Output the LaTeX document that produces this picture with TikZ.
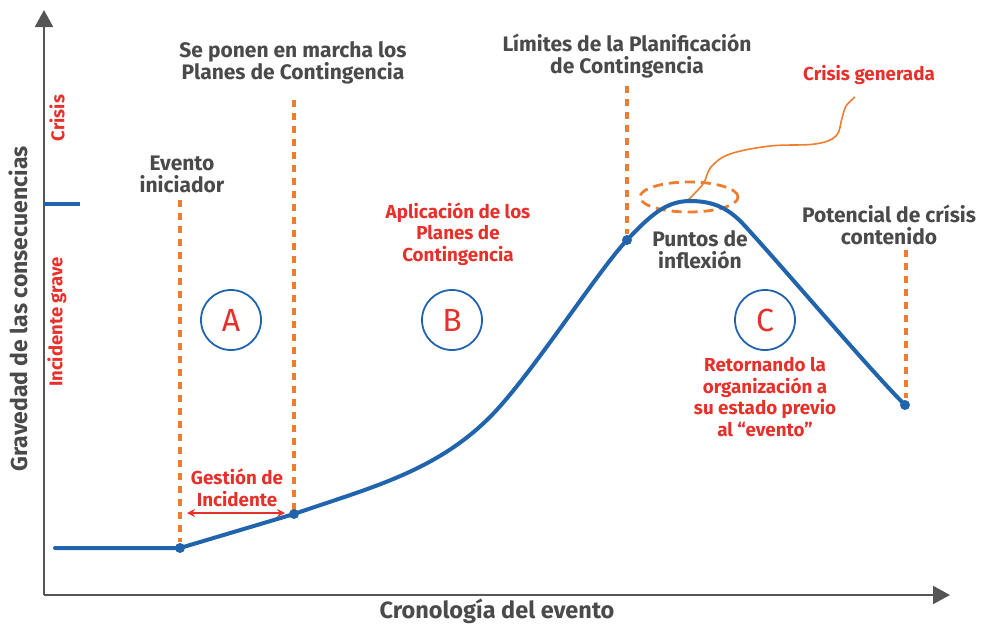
\documentclass[tikz,border=0pt]{standalone}
\usepackage{fontspec}
\setmainfont{Fira Sans}[BoldFont={Fira Sans Bold}]
\usetikzlibrary{arrows.meta}
\definecolor{axgray}{HTML}{555555}
\definecolor{txtgray}{HTML}{4A4A4A}
\definecolor{cred}{HTML}{E8302A}
\definecolor{cblue}{HTML}{2164AE}
\definecolor{corange}{HTML}{EE7D2F}
\tikzset{
  axis/.style={axgray, line width=2pt, -{Triangle[width=18pt,length=17pt]}},
  vdash/.style={corange, line width=3.5pt, dash pattern=on 7pt off 6pt},
  graytxt/.style={txtgray, font=\bfseries\fontsize{21}{22}\selectfont, align=center, inner sep=0pt},
  redtxt/.style={cred, font=\bfseries\fontsize{18.8}{21.5}\selectfont, align=center, inner sep=0pt},
  zone/.style={circle, draw=cblue, line width=1.8pt, minimum size=60pt, inner sep=0pt, text=cred, font=\fontsize{32}{32}\selectfont},
  dot/.style={circle, fill=cblue, minimum size=10pt, inner sep=0pt},
}
\begin{document}
\begin{tikzpicture}[x=1pt,y=-1pt]
\useasboundingbox (0,0) rectangle (998,624);
% axes
\coordinate (O) at (44,595);
\coordinate (ytop) at (44,10);
\coordinate (xend) at (950,595);
\draw[axis] (O) -- (ytop);
\draw[axis] (O) -- (xend);
\node[txtgray, font=\bfseries\fontsize{23}{24}\selectfont, rotate=90, inner sep=0pt] (ylab) at (18,309) {Gravedad de las consecuencias};
\node[txtgray, font=\bfseries\fontsize{23.5}{24}\selectfont, inner sep=0pt] (xlab) at (497,611) {Cronología del evento};
% crisis tick
\coordinate (t1) at (44,204);
\coordinate (t2) at (80,204);
\draw[cblue, line width=4pt] (t1) -- (t2);
\node[cred, font=\bfseries\fontsize{18.5}{20}\selectfont, rotate=90, inner sep=0pt] (crisis) at (57,118) {Crisis};
\node[cred, font=\bfseries\fontsize{18.5}{20}\selectfont, rotate=90, inner sep=0pt] (incg) at (57,322) {Incidente grave};
% vertical dashed lines
\coordinate (v1a) at (180,200); \coordinate (v1b) at (180,542);
\coordinate (v2a) at (294,100); \coordinate (v2b) at (294,510);
\coordinate (v3a) at (627,86); \coordinate (v3b) at (627,234);
\coordinate (v4a) at (906,250); \coordinate (v4b) at (906,398);
\draw[vdash] (v1a) -- (v1b);
\draw[vdash] (v2a) -- (v2b);
\draw[vdash] (v3a) -- (v3b);
\draw[vdash] (v4a) -- (v4b);
% dashed ellipse
\draw[corange, line width=2.8pt, dash pattern=on 10pt off 6pt] (689,197) ellipse [x radius=49pt, y radius=15pt];
% squiggle
\draw[corange, line width=1.6pt] plot[smooth, tension=0.6] coordinates {(686,202) (703,184) (711,167) (730,154) (770,146) (815,144) (836,136) (842,118) (846,106) (855,97)};
% main curve
\coordinate (c0) at (55,548);
\coordinate (P0) at (180,548);
\coordinate (P1) at (294,514);
\coordinate (P2) at (490,417);
\coordinate (P3) at (627,240);
\coordinate (P4) at (690,201);
\coordinate (Q) at (745,226);
\coordinate (P5) at (905,405);
\draw[cblue, line width=4pt, line cap=round] (c0) -- (P0) -- (P1)
  .. controls (369,488) and (435,472) .. (P2)
  .. controls (530,377) and (597,272) .. (P3)
  .. controls (649,217) and (665,201) .. (P4)
  .. controls (715,201) and (730,209.5) .. (Q)
  .. controls (795,281) and (870,370) .. (P5);
\node[dot] (d1) at (P0) {};
\node[dot] (d2) at (P1) {};
\node[dot] (d3) at (P3) {};
\node[dot] (d4) at (P5) {};
% zone circles
\node[zone] (A) at (231,320) {A};
\node[zone] (B) at (452,320) {B};
\node[zone] (C) at (765,320) {C};
% gray labels
\node[graytxt] (l1) at (293,63) {Se ponen en marcha los\\Planes de Contingencia};
\node[graytxt] (l2) at (627,56) {Límites de la Planificación\\de Contingencia};
\node[graytxt] (l3) at (182,174) {Evento\\iniciador};
\node[graytxt] (l4) at (700,250) {Puntos de\\inflexión};
\node[graytxt] (l5) at (889,225) {Potencial de crísis\\contenido};
% red labels
\node[redtxt] (r1) at (869,75) {Crisis generada};
\node[redtxt] (r2) at (458,234) {Aplicación de los\\Planes de\\Contingencia};
\node[redtxt] (r3) at (765,397) {Retornando la\\organización a\\su estado previo\\al “evento”};
\node[redtxt] (r4) at (237,488) {Gestión de\\Incidente};
% double arrow
\coordinate (g1) at (187,513);
\coordinate (g2) at (285,513);
\draw[cred, line width=1.5pt, {Stealth[length=8pt,width=8pt]}-{Stealth[length=8pt,width=8pt]}] (g1) -- (g2);
\end{tikzpicture}
\end{document}
